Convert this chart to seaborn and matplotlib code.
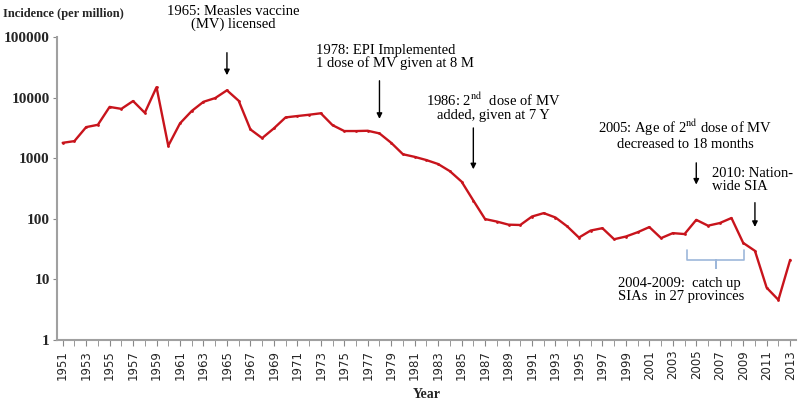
import numpy as np
import pandas as pd
import matplotlib
matplotlib.use("Agg")
import matplotlib.pyplot as plt
import seaborn as sns

# Incidence of measles per million, 1951-2013
years = list(range(1951, 2014))
incidence = [1790, 1910, 3250, 3550, 7000, 6500, 8750, 5600, 14800, 1600,
             3750, 6000, 8500, 9800, 13150, 8850, 2980, 2140, 3100, 4700,
             4950, 5200, 5500, 3500, 2800, 2800, 2830, 2560, 1790, 1160,
             1050, 930, 800, 610, 410, 200, 99, 90, 80, 79,
             109, 124, 105, 75, 49, 64, 70, 46, 51, 60,
             73, 48, 58, 56, 96, 77, 85, 103, 40, 29.6,
             7.3, 4.6, 21]
y_ticks = [1, 10, 100, 1000, 10000, 100000]

df = pd.DataFrame({"Year": years, "Incidence": incidence})

sns.set_style("ticks")
plt.rcParams["mathtext.fontset"] = "stix"
serif = ["Liberation Serif", "DejaVu Serif"]

W, H = 800, 401
fig = plt.figure(figsize=(W / 100, H / 100), dpi=100)
ax = fig.add_axes([0.071, 0.152, 0.924, 0.756])

sns.lineplot(data=df, x="Year", y="Incidence", color="#C8141C", linewidth=1.7,
             marker="o", markersize=2, markeredgewidth=0, ax=ax)

ax.set_yscale("log")
ax.set_ylim(1, 100000)
ax.set_xlim(1950.5, 2013.5)
ax.set_yticks(y_ticks)
ax.set_yticklabels([str(v) for v in y_ticks], fontfamily=serif,
                   fontweight="bold", fontsize=11)
ax.yaxis.set_minor_locator(matplotlib.ticker.NullLocator())
ax.set_xticks(years, minor=True)
ax.set_xticks(years[::2])
ax.set_xticklabels([str(y) for y in years[::2]], rotation=90, fontsize=8.5)
ax.tick_params(axis="x", which="both", length=4, color="#888888", pad=3)
ax.tick_params(axis="y", length=3, color="#888888", pad=2)

for s in ["top", "right"]:
    ax.spines[s].set_visible(False)
for s in ["left", "bottom"]:
    ax.spines[s].set_color("#A0A0A0")
    ax.spines[s].set_linewidth(1.5)

ax.set_xlabel("Year", fontfamily=serif, fontweight="bold", fontsize=10,
              labelpad=6)
ax.set_ylabel("")
fig.text(3 / W, 1 - 14 / H, "Incidence (per million)", fontfamily=serif,
         fontweight="bold", fontsize=9, ha="left", va="center")

txt = dict(fontfamily=serif, fontsize=10.5, color="black", linespacing=1.0,
           va="center", transform=fig.transFigure)
arrow = dict(arrowstyle="-|>", color="black", lw=1, mutation_scale=8)


def put(px, py, s, ha):
    fig.text(px / W, 1 - py / H, s, ha=ha, **txt)


put(233, 18, "1965: Measles vaccine\n(MV) licensed", "center")
ax.annotate("", xy=(1965, 21000), xytext=(1965, 61000), arrowprops=arrow)

put(316, 57, "1978: EPI Implemented\n1 dose of MV given at 8 M", "left")
ax.annotate("", xy=(1978, 4000), xytext=(1978, 21000), arrowprops=arrow)

put(493, 107, "1986: 2$^{\\mathrm{nd}}$  dose of MV\nadded, given at 7 Y", "center")
ax.annotate("", xy=(1986, 590), xytext=(1986, 3500), arrowprops=arrow)

put(685, 134, "2005: Age of 2$^{\\mathrm{nd}}$ dose of MV\ndecreased to 18 months",
    "center")
ax.annotate("", xy=(2005, 330), xytext=(2005, 930), arrowprops=arrow)

put(712, 180, "2010: Nation-\nwide SIA", "left")
ax.annotate("", xy=(2010, 66), xytext=(2010, 205), arrowprops=arrow)

# brace under the catch-up campaign years
bx = [2004.2, 2004.2, 2006.7, 2006.7, 2006.7, 2009.1, 2009.1]
by = [30.6, 20.9, 20.9, 15.4, 20.9, 20.9, 30.6]
ax.plot(bx, by, color="#9DB7DA", lw=1.2)

put(618, 290, "2004-2009:  catch up\nSIAs  in 27 provinces", "left")

fig.savefig("out.png", dpi=100, facecolor="white")
